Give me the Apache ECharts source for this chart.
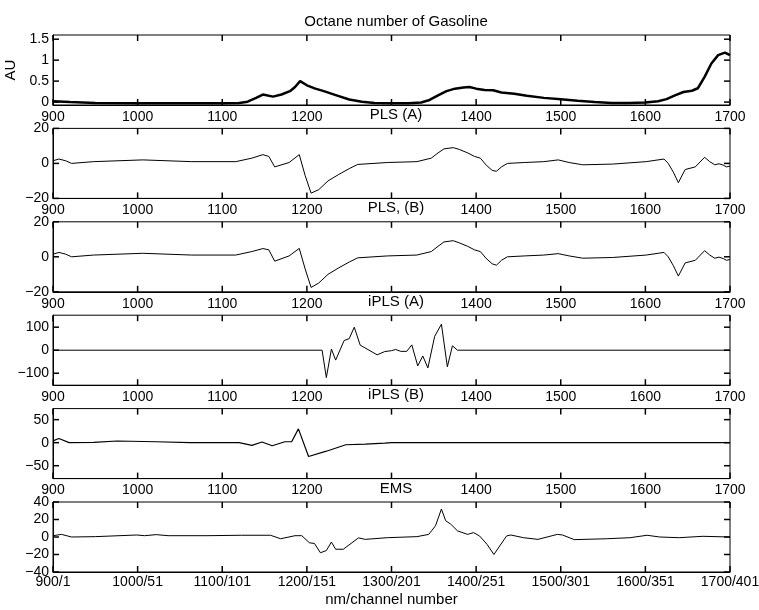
<!DOCTYPE html>
<html>
<head>
<meta charset="utf-8">
<script src="https://cdn.jsdelivr.net/npm/echarts@6/dist/echarts.min.js"></script>
<style>
  html, body { margin: 0; padding: 0; background: #fff; }
  #main { width: 759px; height: 610px; }
</style>
</head>
<body>
<div id="main"></div>
<script>
// 面板标题
var panelTitles = ['Octane number of Gasoline', 'PLS (A)', 'PLS, (B)', 'iPLS (A)', 'iPLS (B)', 'EMS'];
// x 轴刻度 (上面五个面板的 1300 被标题盖住)
var xTickVals = [900, 1000, 1100, 1200, 1300, 1400, 1500, 1600, 1700];
var xTickLabels = ['900', '1000', '1100', '1200', '', '1400', '1500', '1600', '1700'];
var emsTickLabels = ['900/1', '1000/51', '1100/101', '1200/151', '1300/201', '1400/251', '1500/301', '1600/351', '1700/401'];
// y 轴范围与刻度
var yMins = [-0.07, -20, -20, -152, -78, -40];
var yMaxs = [1.6, 20, 20, 152, 74, 40];
var yTicks = [[0, 0.5, 1, 1.5], [-20, 0, 20], [-20, 0, 20], [-100, 0, 100], [-50, 0, 50], [-40, -20, 0, 20, 40]];

// 汽油光谱 (AU)，上下两条包络
var auNm = [900,920,950,1000,1050,1100,1120,1130,1140,1148,1160,1170,1180,1186,1192,1200,1210,1220,1235,1250,1265,1280,1300,1320,1335,1345,1355,1365,1375,1385,1392,1400,1410,1420,1430,1445,1460,1480,1500,1520,1540,1560,1580,1600,1615,1625,1635,1645,1655,1662,1670,1678,1686,1694,1700];
var auLow = [0.02,0.0,-0.02,-0.03,-0.03,-0.03,-0.02,0.01,0.1,0.18,0.13,0.18,0.26,0.36,0.5,0.4,0.32,0.26,0.16,0.06,0.01,-0.02,-0.03,-0.03,-0.01,0.05,0.16,0.26,0.32,0.35,0.36,0.32,0.29,0.28,0.23,0.2,0.15,0.1,0.07,0.03,0.0,-0.02,-0.02,-0.01,0.02,0.07,0.16,0.24,0.27,0.33,0.6,0.92,1.12,1.18,1.12];
var auHigh = [0.04,0.02,0.0,-0.01,-0.01,-0.01,0.0,0.03,0.13,0.22,0.16,0.21,0.3,0.41,0.56,0.45,0.36,0.29,0.19,0.08,0.03,0.0,-0.01,-0.01,0.01,0.08,0.2,0.31,0.37,0.4,0.41,0.36,0.33,0.31,0.26,0.22,0.17,0.12,0.09,0.05,0.02,0.0,0.0,0.01,0.05,0.11,0.22,0.3,0.33,0.42,0.72,1.05,1.25,1.3,1.25];

// PLS (A)
var plsANm = [900,907,915,922,948,1006,1064,1116,1135,1148,1155,1162,1179,1191,1198,1205,1214,1225,1237,1250,1260,1295,1330,1347,1355,1362,1373,1380,1390,1398,1405,1412,1419,1424,1430,1437,1457,1480,1497,1510,1526,1561,1601,1615,1622,1627,1633,1639,1647,1659,1670,1676,1682,1687,1692,1696,1700];
var plsA = [1.5,2.5,1.5,0,1,2,1,1,3,5,4,-2,0.5,5,-7,-17,-15,-10,-6.5,-3,-0.6,0.5,1,3,6,8.3,9,8,6,4,3,-1,-4,-4.5,-2,0,0.5,1,2,0.5,-0.8,-0.4,1,2,2.5,0,-5,-11,-3.5,-2,3.5,1,-0.8,-0.2,-1,-2,-1.5];
// PLS, (B)
var plsBNm = plsANm;
var plsB = [1.5,2.5,1.5,0,1,2,1,1,3,4.7,4,-2.5,0.5,4.8,-7,-17.5,-15,-10,-6.5,-3,-0.6,0.5,1,3,6,8.5,9.2,8,6,4,3,-1,-4,-4.8,-2,0,0.5,1,1.8,0.5,-0.8,-0.4,1,2,2.5,0,-5,-11,-3.5,-2,3.5,1,-0.8,-0.2,-1,-2,-1.5];
// iPLS (A)
var iplsANm = [900,1218,1223,1229,1234,1244,1250,1256,1263,1283,1292,1300,1305,1311,1318,1324,1331,1337,1343,1351,1359,1366,1372,1378,1700];
var iplsA = [0,0,-119,5,-43,42,50,100,22,-20,-6,-2,3,-5,-5,23,-68,-25,-77,60,113,-72,19,0,0];
// iPLS (B)
var iplsBNm = [900,907,919,948,976,1022,1062,1120,1135,1147,1159,1174,1182,1190,1202,1223,1246,1269,1292,1300,1700];
var iplsB = [4,9,0,0.7,3.7,2,0,0,-6,1.5,-6.7,2,2,30,-30,-18.5,-4.5,-3,-1,0,0];
// EMS
var emsNm = [900,910,922,950,999,1008,1022,1036,1082,1123,1157,1169,1186,1194,1203,1209,1216,1223,1229,1234,1243,1261,1269,1295,1330,1344,1352,1359,1364,1370,1378,1390,1397,1404,1413,1421,1436,1441,1456,1473,1496,1502,1516,1554,1582,1602,1617,1640,1668,1700];
var ems = [1.5,3,0,0.4,2.3,1.5,2.7,1.5,1.5,2,2,-2,1.5,1.5,-6.6,-7.4,-18,-15.5,-5.8,-14,-14,-1,-2.7,-0.8,0.4,3,12.8,32,18.6,14.7,7,3,5,1.2,-8.5,-20,1.2,2.3,-0.8,-2.7,3,2.3,-3,-2,-0.8,2,0,-0.8,0.8,0];

var FONT = 'Liberation Sans';
var FS = 14;      // 刻度文字
var FS_T = 15;    // 标题、轴名
var TICK = 6;     // 刻度线长度，朝内
var panelTop = [35, 128.4, 221.8, 315.2, 408.6, 502];
var panelH = 70;

// 合并 x/y
function pairs(xs, ys){
    var out = [];
    for(var i=0;i<xs.length;i++){
        out.push([xs[i], ys[i]]);
    }
    return out;
}
// 上下包络之差 (用来堆叠成带状)
function bandPairs(xs, lo, hi){
    var out = [];
    for(var i=0;i<xs.length;i++){
        out.push([xs[i], hi[i] - lo[i]]);
    }
    return out;
}
function minusSign(v){
    return String(v).replace('-', '\u2212');
}
// 四边朝内的刻度 (matlab 风格)，用 custom 系列按坐标轴换算
function tickSeries(idx){
    var data = [];
    for(var k=0;k<xTickVals.length;k++) data.push({value: [xTickVals[k], yMins[idx]], kind: 'x'});
    for(var k=0;k<yTicks[idx].length;k++) data.push({value: [900, yTicks[idx][k]], kind: 'y'});
    var ymin = yMins[idx], ymax = yMaxs[idx];
    return {
        type: 'custom', xAxisIndex: idx, yAxisIndex: idx, data: data, clip: false,
        silent: true, animation: false, z: 10,
        renderItem: function(params, api){
            var item = data[params.dataIndex];
            var st = {stroke: '#000', lineWidth: 1.5};
            if(item.kind === 'x'){
                var v = item.value[0];
                var b = api.coord([v, ymin]), t = api.coord([v, ymax]);
                return {type: 'group', children: [
                    {type: 'line', shape: {x1: b[0], y1: b[1], x2: b[0], y2: b[1] - TICK}, style: st},
                    {type: 'line', shape: {x1: t[0], y1: t[1], x2: t[0], y2: t[1] + TICK}, style: st}
                ]};
            }
            var w = item.value[1];
            var l = api.coord([900, w]), r = api.coord([1700, w]);
            return {type: 'group', children: [
                {type: 'line', shape: {x1: l[0], y1: l[1], x2: l[0] + TICK, y2: l[1]}, style: st},
                {type: 'line', shape: {x1: r[0], y1: r[1], x2: r[0] - TICK, y2: r[1]}, style: st}
            ]};
        }
    };
}

var chartDom = document.getElementById('main');
var myChart = echarts.init(chartDom, null, {renderer: 'canvas'});

var grids = [], xAxes = [], yAxes = [], titles = [], series = [];
for(var i=0;i<6;i++){
    grids.push({left: 53, right: 29, top: panelTop[i], height: panelH,
        outerBoundsMode: 'none', containLabel: false,
        show: true, borderColor: '#000', borderWidth: 1, backgroundColor: 'transparent'});
    titles.push({text: panelTitles[i], left: 391, textAlign: 'center', top: panelTop[i] - 26,
        textStyle: {fontFamily: FONT, fontSize: FS_T, fontWeight: 'normal', color: '#000'}});
    var isLast = (i == 5);
    var labels = isLast ? emsTickLabels : xTickLabels;
    xAxes.push({
        type: 'value', gridIndex: i, position: 'bottom', min: 900, max: 1700, interval: 100,
        axisLine: {show: true, onZero: false, lineStyle: {color: '#000'}},
        axisTick: {show: false},
        splitLine: {show: false},
        axisLabel: {
            color: '#000', fontFamily: FONT, fontSize: FS, margin: isLast ? 3 : 5,
            formatter: (function(lb){ return function(v){ return lb[Math.round((v-900)/100)] || ''; }; })(labels)
        },
        name: isLast ? 'nm/channel number' : '', nameLocation: 'middle', nameGap: 20,
        nameTextStyle: {color: '#000', fontFamily: FONT, fontSize: FS_T}
    });
    yAxes.push({
        type: 'value', gridIndex: i, position: 'left', min: yMins[i], max: yMaxs[i],
        axisLine: {show: true, onZero: false, lineStyle: {color: '#000'}},
        axisTick: {show: false},
        splitLine: {show: false},
        axisLabel: {color: '#000', fontFamily: FONT, fontSize: FS, margin: 4,
            customValues: yTicks[i], formatter: minusSign},
        name: i == 0 ? 'AU' : '', nameLocation: 'middle', nameGap: 28, nameRotate: 90,
        nameTextStyle: {color: '#000', fontFamily: FONT, fontSize: FS_T}
    });
}

function lineSeries(idx, data, width){
    return {
        type: 'line', xAxisIndex: idx, yAxisIndex: idx, data: data,
        showSymbol: false, symbol: 'none', silent: true, animation: false,
        lineStyle: {color: '#000', width: width}
    };
}
// 汽油光谱：下包络 + 堆叠的带
var auLowSeries = lineSeries(0, pairs(auNm, auLow), 2.5);
auLowSeries.stack = 'au';
var auBandSeries = lineSeries(0, bandPairs(auNm, auLow, auHigh), 2.5);
auBandSeries.stack = 'au';
auBandSeries.areaStyle = {color: '#000', opacity: 1};
series.push(auLowSeries);
series.push(auBandSeries);
series.push(lineSeries(1, pairs(plsANm, plsA), 1));
series.push(lineSeries(2, pairs(plsBNm, plsB), 1));
series.push(lineSeries(3, pairs(iplsANm, iplsA), 1));
series.push(lineSeries(4, pairs(iplsBNm, iplsB), 1.2));
series.push(lineSeries(5, pairs(emsNm, ems), 1));
for(var i=0;i<6;i++){
    series.push(tickSeries(i));
}

var option = {
    animation: false,
    backgroundColor: '#fff',
    textStyle: {fontFamily: FONT},
    title: titles,
    grid: grids,
    xAxis: xAxes,
    yAxis: yAxes,
    series: series
};
myChart.setOption(option);
</script>
</body>
</html>
